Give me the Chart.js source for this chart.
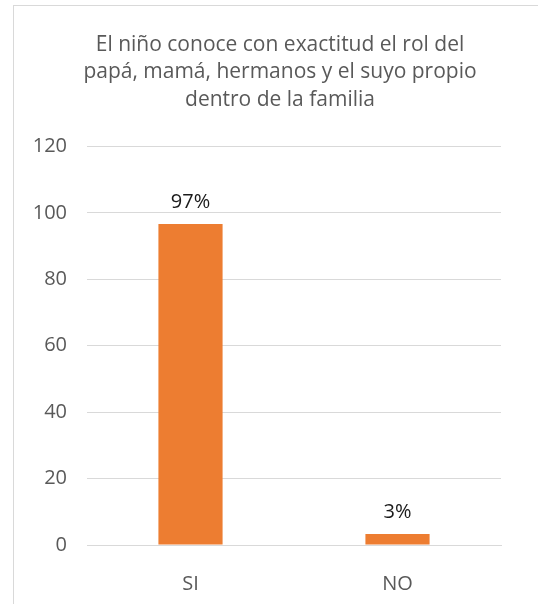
<!DOCTYPE html>
<html>
<head>
<meta charset="utf-8">
<script src="https://cdn.jsdelivr.net/npm/chart.js@4/dist/chart.umd.min.js"></script>
<style>
  html, body { margin: 0; padding: 0; background: #fff; }
  #wrap { position: relative; width: 538px; height: 604px; overflow: hidden; }
  #frame { position: absolute; left: 13px; top: 5px; width: 600px; height: 700px; border: 1px solid #d9d9d9; box-sizing: border-box; }
  canvas { position: absolute; left: 0; top: 0; }
</style>
</head>
<body>
<div id="wrap">
  <div id="frame"></div>
  <canvas id="c" width="538" height="604"></canvas>
</div>
<script>
const titleLines = ["El niño conoce con exactitud el rol del", "papá, mamá, hermanos y el suyo propio", "dentro de la familia"];
const categories = ["SI", "NO"];
const values = [96.7, 3.3];
const valueLabels = ["97%", "3%"];
const yTicks = [0, 20, 40, 60, 80, 100, 120];

const FONT = "'Open Sans', 'Liberation Sans', sans-serif";
const TITLE_SIZE = 21;
const TITLE_LH = 1.31;
const TITLE_CENTER_X = 280;

const titleDrawPlugin = {
  id: 'titleDraw',
  afterDraw(chart) {
    const tb = chart.titleBlock;
    if (!tb) return;
    const ctx = chart.ctx;
    const lh = TITLE_SIZE * TITLE_LH;
    ctx.save();
    ctx.font = TITLE_SIZE + "px " + FONT;
    ctx.fillStyle = "#595959";
    ctx.textAlign = "center";
    ctx.textBaseline = "middle";
    titleLines.forEach((line, i) => {
      ctx.fillText(line, TITLE_CENTER_X, tb.top + lh * (i + 0.5));
    });
    ctx.restore();
  }
};

const labelPlugin = {
  id: 'barLabels',
  afterDatasetsDraw(chart) {
    const ctx = chart.ctx;
    const meta = chart.getDatasetMeta(0);
    ctx.save();
    ctx.font = "20px " + FONT;
    ctx.fillStyle = "#1a1a1a";
    ctx.textAlign = "center";
    ctx.textBaseline = "alphabetic";
    meta.data.forEach((bar, i) => {
      ctx.fillText(valueLabels[i], bar.x, bar.y - 16);
    });
    ctx.restore();
  }
};

new Chart(document.getElementById('c'), {
  type: 'bar',
  data: {
    labels: categories,
    datasets: [{
      data: values,
      backgroundColor: '#ED7D31',
      borderWidth: 0,
      categoryPercentage: 1,
      barPercentage: 0.31
    }]
  },
  options: {
    responsive: false,
    animation: false,
    devicePixelRatio: 1,
    layout: { padding: { left: 0, right: 37, top: 31, bottom: 0 } },
    plugins: {
      legend: { display: false },
      tooltip: { enabled: false },
      title: {
        display: true,
        text: titleLines,
        color: 'rgba(0,0,0,0)',
        font: { family: FONT, size: TITLE_SIZE, weight: 'normal', lineHeight: TITLE_LH },
        padding: { top: 0, bottom: 33 }
      }
    },
    scales: {
      x: {
        afterFit(scale) { scale.height = 59; },
        grid: { display: false },
        border: { display: true, color: '#d9d9d9', width: 1 },
        ticks: { color: '#595959', font: { family: FONT, size: 20 }, padding: 19, maxRotation: 0 }
      },
      y: {
        min: 0, max: 120,
        afterBuildTicks(scale) { scale.ticks = yTicks.map(v => ({ value: v })); },
        afterFit(scale) { scale.width = 87; },
        grid: { color: '#d9d9d9', drawTicks: false },
        border: { display: false },
        ticks: { color: '#595959', font: { family: FONT, size: 20 }, padding: 20 }
      }
    }
  },
  plugins: [labelPlugin, titleDrawPlugin]
});
</script>
</body>
</html>
